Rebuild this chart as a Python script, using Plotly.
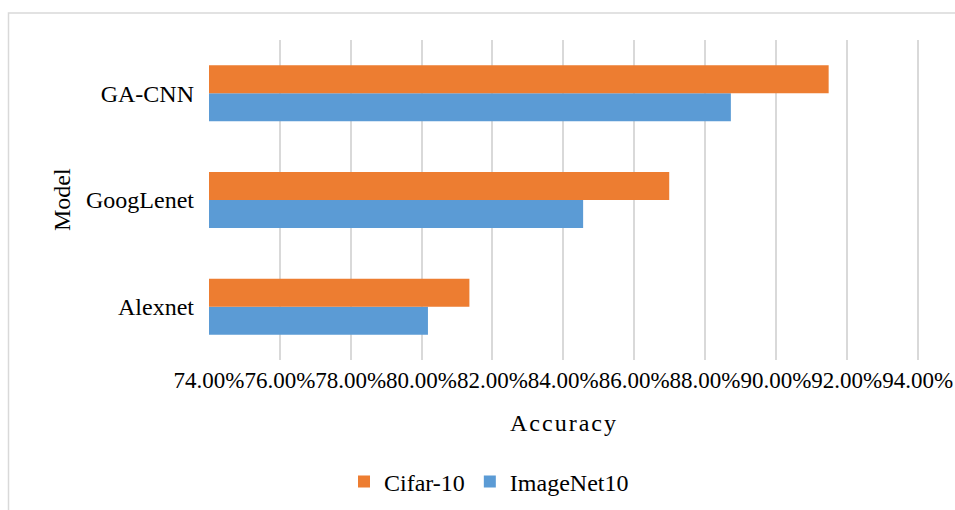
import plotly.graph_objects as go

models = ["Alexnet", "GoogLenet", "GA-CNN"]
cifar10 = [81.35, 86.99, 91.49]
imagenet10 = [80.18, 84.56, 88.73]
xticks = [74, 76, 78, 80, 82, 84, 86, 88, 90, 92, 94]

FONT = "Liberation Serif"
ORANGE = "#ED7D31"
BLUE = "#5B9BD5"

fig = go.Figure()
fig.add_trace(go.Bar(y=models, x=imagenet10, name="ImageNet10", orientation="h",
                     marker=dict(color=BLUE, line=dict(width=0))))
fig.add_trace(go.Bar(y=models, x=cifar10, name="Cifar-10", orientation="h",
                     marker=dict(color=ORANGE, line=dict(width=0))))

L, R, T, B = 209, 36, 40, 150
W, H = 955, 510
pw, ph = W - L - R, H - T - B

def px(x):
    return (x - L) / pw

def py(y):
    return (H - B - y) / ph

fig.update_layout(
    width=W, height=H,
    margin=dict(l=L, r=R, t=T, b=B, autoexpand=False),
    paper_bgcolor="white", plot_bgcolor="white",
    barmode="group", bargap=0.475, bargroupgap=0,
    font=dict(family=FONT, size=24, color="#000000"),
    showlegend=True,
    legend=dict(orientation="h", traceorder="reversed", x=px(489), y=py(482),
                xanchor="center", yanchor="middle", font=dict(size=24, family=FONT),
                itemwidth=30, bgcolor="rgba(0,0,0,0)"),
    xaxis=dict(range=[74, 94.04], tickvals=xticks,
               ticktext=[f"{v:.2f}%" for v in xticks], tickangle=0,
               showgrid=True, gridcolor="#D9D9D9", gridwidth=2,
               zeroline=False, showline=False, ticks="", ticklabelstandoff=4,
               automargin=False, tickfont=dict(size=23, family=FONT)),
    yaxis=dict(categoryorder="array", categoryarray=models, showgrid=False,
               showline=False, ticks="", ticklabelstandoff=14, automargin=False,
               tickfont=dict(size=24, family=FONT)),
    shapes=[dict(type="rect", xref="paper", yref="paper",
                 x0=px(8.5), x1=px(970), y0=py(530), y1=py(13),
                 line=dict(color="#D9D9D9", width=1.5), layer="below")],
    annotations=[
        dict(text="Model", xref="paper", yref="paper", x=px(62), y=py(200),
             textangle=-90, showarrow=False, xanchor="center", yanchor="middle",
             font=dict(size=24, family=FONT)),
        dict(text="A c c u r a c y".replace(" ", "\u200a"), xref="paper", yref="paper",
             x=px(563), y=py(423),
             showarrow=False, xanchor="center", yanchor="middle",
             font=dict(size=24, family=FONT)),
    ],
)

fig.write_html("out.html")
